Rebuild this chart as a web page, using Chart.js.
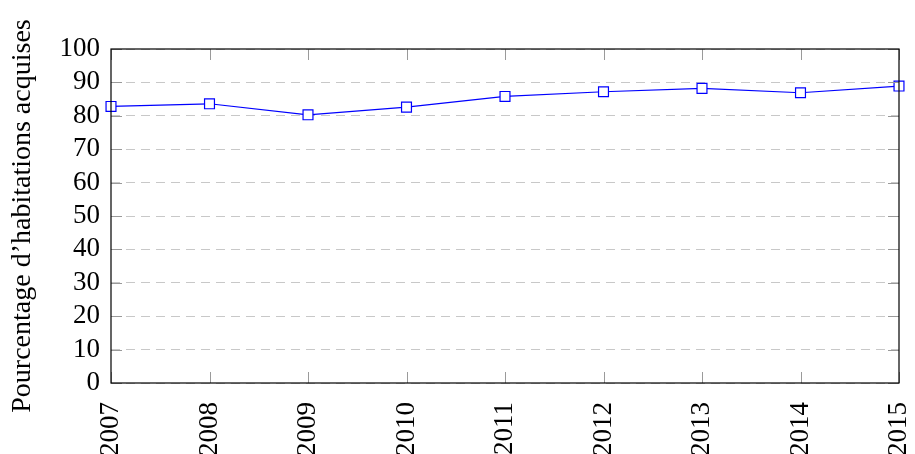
<!DOCTYPE html>
<html>
<head>
<meta charset="utf-8">
<script src="https://cdn.jsdelivr.net/npm/chart.js@4/dist/chart.umd.min.js"></script>
<style>
  html, body { margin: 0; padding: 0; background: #fff; }
  #wrap { width: 915px; height: 454px; }
</style>
</head>
<body>
<div id="wrap"><canvas id="graph"></canvas></div>
<script>
// Données
const annees = ["2007", "2008", "2009", "2010", "2011", "2012", "2013", "2014", "2015"];
const pourcentages = [82.8, 83.6, 80.3, 82.6, 85.8, 87.2, 88.2, 86.9, 88.9];
const graduationsY = [0, 10, 20, 30, 40, 50, 60, 70, 80, 90, 100];

const police = "Liberation Serif, Times New Roman, Tinos, serif";

// Petites graduations à l'intérieur du cadre + cadre noir
const cadre = {
    id: "cadre",
    afterDatasetsDraw(chart) {
        const { ctx, chartArea: a, scales } = chart;
        const lg = 11;
        ctx.save();
        ctx.strokeStyle = "#9a9a9a";
        ctx.lineWidth = 1;
        ctx.beginPath();
        annees.forEach((_, i) => {
            const x = Math.round(scales.x.getPixelForTick(i)) + 0.5;
            ctx.moveTo(x, a.top); ctx.lineTo(x, a.top + lg);
            ctx.moveTo(x, a.bottom); ctx.lineTo(x, a.bottom - lg);
        });
        graduationsY.forEach(v => {
            const y = Math.round(scales.y.getPixelForValue(v)) + 0.5;
            ctx.moveTo(a.left, y); ctx.lineTo(a.left + lg, y);
            ctx.moveTo(a.right, y); ctx.lineTo(a.right - lg, y);
        });
        ctx.stroke();
        ctx.strokeStyle = "#000";
        ctx.lineWidth = 1.2;
        ctx.strokeRect(a.left, a.top, a.right - a.left, a.bottom - a.top);
        ctx.restore();
    }
};

const ctx = document.getElementById("graph").getContext("2d");
new Chart(ctx, {
    type: "line",
    data: {
        labels: annees,
        datasets: [{
            data: pourcentages,
            borderColor: "#0000ff",
            borderWidth: 1.2,
            pointStyle: "rect",
            pointRadius: 7,
            pointHoverRadius: 7,
            pointBorderWidth: 1.2,
            pointBackgroundColor: "#ffffff",
            pointBorderColor: "#0000ff",
            tension: 0,
            clip: false
        }]
    },
    options: {
        responsive: true,
        maintainAspectRatio: false,
        animation: false,
        layout: { padding: { top: 49, right: 16, left: 0, bottom: 0 } },
        plugins: {
            legend: { display: false },
            tooltip: { enabled: false }
        },
        scales: {
            x: {
                offset: false,
                grid: { display: false },
                border: { display: false },
                ticks: {
                    color: "#000",
                    font: { family: police, size: 27 },
                    maxRotation: 90,
                    minRotation: 90,
                    autoSkip: false,
                    padding: 11
                },
                afterFit(s) { s.height = 71; s.paddingLeft = 0; s.paddingRight = 0; }
            },
            y: {
                min: 0,
                max: 100,
                grid: { color: "#c8c8c8", lineWidth: 1, drawTicks: false },
                border: { display: false, dash: [9, 6] },
                ticks: {
                    stepSize: 10,
                    autoSkip: false,
                    color: "#000",
                    font: { family: police, size: 27 },
                    padding: 11
                },
                title: {
                    display: true,
                    text: "Pourcentage d’habitations acquises",
                    color: "#000",
                    font: { family: police, size: 28 },
                    padding: { top: 6, bottom: 0 }
                },
                afterFit(s) { s.width = 111; s.paddingTop = 0; s.paddingBottom = 0; }
            }
        }
    },
    plugins: [cadre]
});
</script>
</body>
</html>
